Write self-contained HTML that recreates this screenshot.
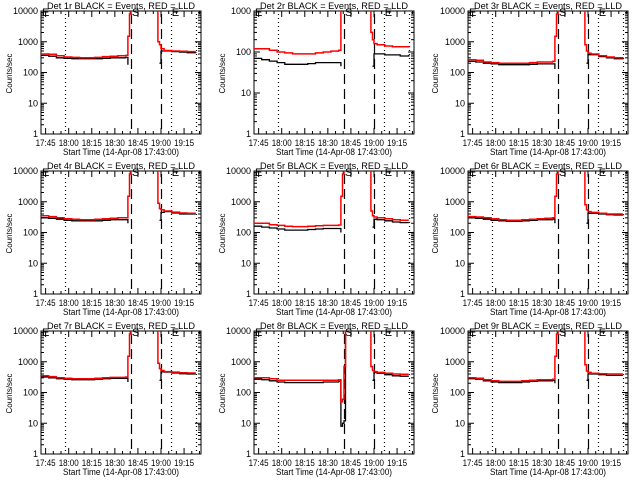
<!DOCTYPE html>
<html><head><meta charset="utf-8"><style>
html,body{margin:0;padding:0;background:#fff;}
svg{display:block;font-family:"Liberation Sans",sans-serif;}
</style></head><body>
<svg id="chart" width="640" height="480" viewBox="0 0 640 480" xmlns="http://www.w3.org/2000/svg">
<rect x="0" y="0" width="640" height="480" fill="#fff"/>
</svg>
<script>
// minutes since 17:42
const times = [0,5,10,15,20,25,30,35,40,45,50,55,56.5,57.5,58.5,59.5,74,76,77,78,80,85,90,95,100.6];
const xTickLabels = ["17:45","18:00","18:15","18:30","18:45","19:00","19:15"];
const xTickTimes = [3,18,33,48,63,78,93];
const vLinesTimes = [15.6,58.5,78,84.3,100.6];
const vLinesStyle = ["dot","dash","dash","dot","dot"];
const detNames = ["1r","2r","3r","4r","5r","6r","7r","8r","9r"];
const yMaxDecade = [4,3,4,4,4,4,4,4,4];
const N = null;
const red1 = [400,390,350,320,310,300,300,310,330,340,350,360,1500,8000,20000,20000,20000,1000,800,600,520,500,490,480,480];
const black1 = [360,340,300,290,280,280,280,280,290,300,300,310,180,N,N,N,N,N,200,500,500,480,460,440,430];
const red2 = [120,120,110,100,95,90,90,90,95,100,105,110,1500,8000,20000,20000,20000,300,200,160,150,140,135,135,140];
const black2 = [70,65,60,55,50,50,50,52,55,55,55,55,45,N,N,N,N,N,45,90,90,85,85,80,85];
const red3 = [260,250,220,210,200,200,200,200,210,220,220,230,1500,8000,20000,20000,20000,800,500,420,400,350,320,300,320];
const black3 = [230,220,200,190,180,180,180,180,185,190,190,190,130,N,N,N,N,N,200,380,380,330,300,280,300];
const red4 = [350,330,300,280,270,260,260,270,280,290,300,300,1500,8000,20000,20000,20000,900,600,550,500,460,430,420,420];
const black4 = [300,290,270,250,240,240,240,240,250,260,260,260,200,N,N,N,N,N,250,450,480,430,400,400,400];
const red5 = [200,200,180,170,160,155,155,160,165,170,170,175,1500,8000,20000,20000,20000,500,350,320,300,280,260,250,250];
const black5 = [160,150,140,130,120,120,120,125,130,135,135,135,100,N,N,N,N,N,150,270,260,240,220,210,210];
const red6 = [330,320,300,280,260,250,250,260,270,280,290,300,1500,8000,20000,20000,20000,800,550,480,450,420,400,400,400];
const black6 = [300,290,270,250,240,230,230,240,250,260,260,270,200,N,N,N,N,N,200,420,420,400,380,370,380];
const red7 = [350,330,300,290,280,280,280,290,300,310,310,320,1500,8000,20000,20000,20000,900,600,520,480,460,440,430,430];
const black7 = [320,300,280,270,260,260,260,270,280,290,290,290,220,N,N,N,N,N,250,470,460,430,410,400,400];
const red8 = [300,300,280,250,250,250,250,250,250,250,250,260,50,60,700,20000,20000,700,520,480,450,420,400,390,390];
const black8 = [270,260,240,220,210,210,210,210,210,220,220,230,8,10,12,20000,N,N,250,450,420,380,350,340,340];
const red9 = [300,290,260,240,230,230,230,240,250,260,260,270,1500,8000,20000,20000,20000,800,500,450,420,410,400,400,400];
const black9 = [280,270,240,220,210,210,210,220,230,240,240,250,200,N,N,N,N,N,250,400,400,380,360,360,360];
const redSeries = [red1,red2,red3,red4,red5,red6,red7,red8,red9];
const blackSeries = [black1,black2,black3,black4,black5,black6,black7,black8,black9];

const NS = "http://www.w3.org/2000/svg";
const svg = document.getElementById("chart");
const TMAX = 104;
function mk(tag, attrs, parent){
  const e = document.createElementNS(NS, tag);
  for (const k in attrs) e.setAttribute(k, attrs[k]);
  parent.appendChild(e);
  return e;
}
for (let p = 0; p < 9; p++) {
  const col = p % 3, row = Math.floor(p / 3);
  const ox = col * 213, oy = row * 160;
  const L = ox + 41 + (col === 2 ? 1 : 0), R = L + 160, T = oy + 11, B = oy + 134;
  const dec = yMaxDecade[p];
  const xs = t => L + t / TMAX * (R - L);
  const ys = v => B - Math.log10(v) / dec * (B - T);
  const g = mk("g", {}, svg);
  
  
  const cp = mk("clipPath", {id: "clip" + p}, g);
  mk("rect", {x: L, y: T, width: R - L, height: B - T}, cp);
  const title = mk("text", {x: (L + R) / 2, y: oy + 9, "font-size": "9.5", "text-anchor": "middle", fill: "#000", textLength: "148", lengthAdjust: "spacingAndGlyphs"}, g);
  title.textContent = "Det " + detNames[p] + " BLACK = Events, RED = LLD";
  
  
  const box = mk("rect", {x: L, y: T, width: R - L, height: B - T, fill: "none", stroke: "#000", "stroke-width": 1}, g);
  
  
  for (let d = 0; d <= dec; d++) {
    const y = ys(Math.pow(10, d));
    mk("line", {x1: L, x2: L + 6, y1: y, y2: y, stroke: "#000"}, g);
    mk("line", {x1: R, x2: R - 6, y1: y, y2: y, stroke: "#000"}, g);
    const lab = mk("text", {x: L - 3, y: y + 3, "font-size": "9", "text-anchor": "end", fill: "#000"}, g);
    lab.textContent = String(Math.pow(10, d));
    
    
    if (d < dec) for (let m = 2; m <= 9; m++) {
      const ym = ys(m * Math.pow(10, d));
      mk("line", {x1: L, x2: L + 3, y1: ym, y2: ym, stroke: "#000"}, g);
      mk("line", {x1: R, x2: R - 3, y1: ym, y2: ym, stroke: "#000"}, g);
    }
  }
  for (let t = 3; t <= TMAX; t += 5) {
    const x = xs(t);
    const major = ((t - 3) % 15) === 0;
    const len = major ? 6 : 3;
    mk("line", {x1: x, x2: x, y1: B, y2: B - len, stroke: "#000"}, g);
    mk("line", {x1: x, x2: x, y1: T, y2: T + len, stroke: "#000"}, g);
  }
  for (let i = 0; i < xTickLabels.length; i++) {
    const lab = mk("text", {x: xs(xTickTimes[i]) - 10, y: B + 12, "font-size": "9", fill: "#000", textLength: "20", lengthAdjust: "spacingAndGlyphs"}, g);
    lab.textContent = xTickLabels[i];
    
    
  }
  const xt = mk("text", {x: (L + R) / 2, y: B + 21, "font-size": "9", "text-anchor": "middle", fill: "#000", textLength: "116", lengthAdjust: "spacingAndGlyphs"}, g);
  xt.textContent = "Start Time (14-Apr-08 17:43:00)";
  
  
  const yt = mk("text", {x: 0, y: 0, "font-size": "8", "text-anchor": "middle", fill: "#000", transform: "translate(" + (ox + 12) + "," + ((T + B) / 2 + 1) + ") rotate(-90)"}, g);
  yt.textContent = "Counts/sec";
  
  
  for (let i = 0; i < vLinesTimes.length; i++) {
    const x = Math.round(xs(vLinesTimes[i])) + 0.5;
    const dash = vLinesStyle[i] === "dot" ? "1,3" : "10,5";
    const vl = mk("line", {x1: x, x2: x, y1: T + 3, y2: B, stroke: "#000", "stroke-width": 1.2, "stroke-dasharray": dash}, g);
    
    
  }
  const sl = mk("text", {x: xs(vLinesTimes[1]) + 1, y: T + 5, "font-size": "11", fill: "#000"}, g);
  sl.textContent = "S";
  
  
  const el = mk("text", {x: xs(vLinesTimes[3]) + 1, y: T + 5, "font-size": "11", fill: "#000"}, g);
  el.textContent = "E";
  
  
  const ll = mk("text", {x: L + 1, y: T + 5, "font-size": "11", fill: "#000"}, g);
  ll.textContent = "E";
  
  
  function stepPath(vals) {
    let d = "", pen = false;
    for (let i = 0; i < times.length; i++) {
      const v = vals[i];
      if (v === null) { pen = false; continue; }
      const x = xs(times[i]).toFixed(1), y = ys(v).toFixed(1);
      if (!pen) { d += "M" + x + "," + y; pen = true; }
      else { d += "H" + x + "V" + y; }
    }
    return d;
  }
  const bl = mk("path", {d: stepPath(blackSeries[p]), fill: "none", stroke: "#000", "stroke-width": 1.3, "clip-path": "url(#clip" + p + ")"}, g);
  
  
  const rl = mk("path", {d: stepPath(redSeries[p]), fill: "none", stroke: "#ff0000", "stroke-width": 1.5, "clip-path": "url(#clip" + p + ")"}, g);
  
  
}
</script>
</body></html>
